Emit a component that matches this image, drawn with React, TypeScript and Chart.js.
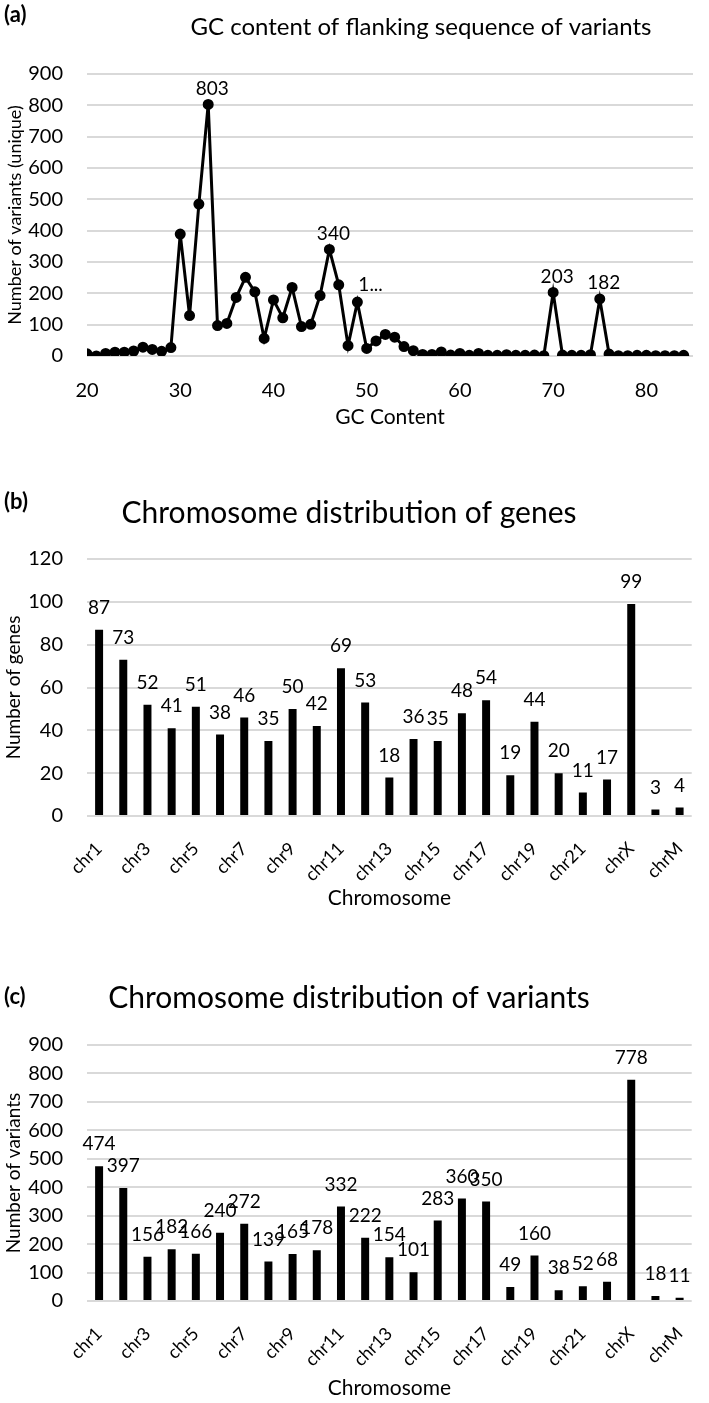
import React, { useEffect, useRef } from 'react';
import { Chart, registerables } from 'chart.js';

Chart.register(...registerables);

const FONT = 'Lato, "Open Sans", sans-serif';
const INK = '#000000';
const GRID = '#d9d9d9';

// ---- Panel (a): GC content ----
const gcContent = [
  20, 21, 22, 23, 24, 25, 26, 27, 28, 29,
  30, 31, 32, 33, 34, 35, 36, 37, 38, 39,
  40, 41, 42, 43, 44, 45, 46, 47, 48, 49,
  50, 51, 52, 53, 54, 55, 56, 57, 58, 59,
  60, 61, 62, 63, 64, 65, 66, 67, 68, 69,
  70, 71, 72, 73, 74, 75, 76, 77, 78, 79,
  80, 81, 82, 83, 84,
];
const gcVariantCounts = [
  7, 0, 8, 12, 12, 16, 28, 21, 15, 27,
  389, 129, 485, 803, 97, 104, 187, 251, 205, 56,
  179, 122, 219, 94, 101, 193, 340, 227, 33, 172,
  24, 48, 69, 60, 30, 17, 5, 5, 13, 3,
  8, 2, 8, 2, 2, 4, 2, 2, 3, 1,
  203, 3, 2, 2, 4, 182, 6, 1, 1, 2,
  2, 1, 1, 1, 2,
];
const gcLabelIndices = [13, 26, 29, 50, 55];
const gcLabelTexts = ['803', '340', '1...', '203', '182'];
const gcYTicks = [0, 900, 100];

// ---- Panels (b) and (c): chromosomes ----
const chromosomes = [
  'chr1', 'chr2', 'chr3', 'chr4', 'chr5', 'chr6', 'chr7', 'chr8', 'chr9', 'chr10',
  'chr11', 'chr12', 'chr13', 'chr14', 'chr15', 'chr16', 'chr17', 'chr18', 'chr19', 'chr20',
  'chr21', 'chr22', 'chrX', 'chrY', 'chrM',
];
const geneCounts = [
  87, 73, 52, 41, 51, 38, 46, 35, 50, 42,
  69, 53, 18, 36, 35, 48, 54, 19, 44, 20,
  11, 17, 99, 3, 4,
];
const variantCounts = [
  474, 397, 156, 182, 166, 240, 272, 139, 165, 178,
  332, 222, 154, 101, 283, 360, 350, 49, 160, 38,
  52, 68, 778, 18, 11,
];
const geneYTicks = [0, 120, 20];
const variantYTicks = [0, 900, 100];

function decorPlugin(letter: string, letterY: number, title: string, titleX: number, titleY: number, titleSize: number) {
  return {
    id: 'panelDecor',
    afterDraw(chart: any) {
      const ctx = chart.ctx;
      ctx.save();
      ctx.fillStyle = INK;
      ctx.textBaseline = 'middle';
      ctx.textAlign = 'left';
      ctx.font = `bold 22px ${FONT}`;
      ctx.fillText(letter, 4, letterY);
      ctx.textAlign = 'center';
      ctx.font = `${titleSize}px ${FONT}`;
      ctx.fillText(title, titleX, titleY);
      ctx.restore();
    },
  };
}

const pointLabelPlugin = {
  id: 'pointLabels',
  afterDatasetsDraw(chart: any) {
    const ctx = chart.ctx;
    const meta = chart.getDatasetMeta(0);
    ctx.save();
    ctx.fillStyle = INK;
    ctx.font = `19px ${FONT}`;
    ctx.textBaseline = 'middle';
    gcLabelIndices.forEach((idx, k) => {
      const el = meta.data[idx];
      const text = gcLabelTexts[k];
      if (text.endsWith('...')) {
        ctx.textAlign = 'left';
        ctx.fillText(text, el.x + 1, el.y - 17);
      } else {
        ctx.textAlign = 'center';
        ctx.fillText(text, el.x + 4, el.y - 16);
      }
    });
    ctx.restore();
  },
};

const barLabelPlugin = {
  id: 'barLabels',
  afterDatasetsDraw(chart: any) {
    const ctx = chart.ctx;
    const meta = chart.getDatasetMeta(0);
    const data = chart.data.datasets[0].data;
    ctx.save();
    ctx.fillStyle = INK;
    ctx.font = `19px ${FONT}`;
    ctx.textBaseline = 'middle';
    ctx.textAlign = 'center';
    meta.data.forEach((el: any, i: number) => {
      ctx.fillText(String(data[i]), el.x, el.y - 22);
    });
    ctx.restore();
  },
};

function yScale(ticks: number[], title: string, titleSize: number, titlePadTop: number) {
  return {
    min: ticks[0],
    max: ticks[1],
    ticks: { stepSize: ticks[2], padding: 24, color: INK, font: { family: FONT, size: 20 } },
    grid: { color: GRID, lineWidth: 2, drawTicks: false },
    border: { display: false },
    title: {
      display: true,
      text: title,
      color: INK,
      font: { family: FONT, size: titleSize },
      padding: { top: titlePadTop, bottom: 0 },
    },
    afterFit: (s: any) => {
      s.width = 87;
    },
  };
}

function lineConfig(): any {
  return {
    type: 'line',
    data: {
      datasets: [
        {
          data: gcContent.map((x, i) => ({ x, y: gcVariantCounts[i] })),
          borderColor: INK,
          backgroundColor: INK,
          borderWidth: 3,
          pointRadius: 4,
          pointBackgroundColor: INK,
          pointBorderColor: INK,
          tension: 0,
        },
      ],
    },
    options: {
      responsive: false,
      animation: false,
      layout: { padding: { left: 0, right: 16, top: 74, bottom: 30 } },
      plugins: { legend: { display: false }, tooltip: { enabled: false }, title: { display: false } },
      scales: {
        x: {
          type: 'linear',
          min: 20,
          max: 85,
          ticks: { stepSize: 10, includeBounds: false, padding: 15, color: INK, font: { family: FONT, size: 20 } },
          grid: { display: false },
          border: { display: false },
          title: {
            display: true,
            text: 'GC Content',
            color: INK,
            font: { family: FONT, size: 21 },
            padding: { top: 0, bottom: 0 },
          },
          afterFit: (s: any) => {
            s.height = 74;
          },
        },
        y: yScale(gcYTicks, 'Number of variants (unique)', 18, 4),
      },
    },
    plugins: [pointLabelPlugin, decorPlugin('(a)', 15, 'GC content of flanking sequence of variants', 421, 27, 24)],
  };
}

function barConfig(values: number[], ticks: number[], yTitle: string, title: string, pad: any, xHeight: number, letter: string, letterY: number, titleY: number): any {
  return {
    type: 'bar',
    data: {
      labels: chromosomes,
      datasets: [
        {
          data: values,
          backgroundColor: INK,
          borderWidth: 0,
          categoryPercentage: 1,
          barPercentage: 0.33,
        },
      ],
    },
    options: {
      responsive: false,
      animation: false,
      layout: { padding: pad },
      plugins: { legend: { display: false }, tooltip: { enabled: false }, title: { display: false } },
      scales: {
        x: {
          ticks: {
            autoSkip: false,
            minRotation: 45,
            maxRotation: 45,
            padding: 14,
            color: INK,
            font: { family: FONT, size: 18 },
            callback: (_v: any, i: number) => (i % 2 === 0 ? chromosomes[i] : ''),
          },
          grid: { display: false },
          border: { display: false },
          title: {
            display: true,
            text: 'Chromosome',
            color: INK,
            font: { family: FONT, size: 21 },
            padding: { top: 0, bottom: 0 },
          },
          afterFit: (s: any) => {
            s.height = xHeight;
          },
        },
        y: yScale(ticks, yTitle, 19, 2),
      },
    },
    plugins: [barLabelPlugin, decorPlugin(letter, letterY, title, 349, titleY, 30)],
  };
}

function Panel({ top, height, make }: { top: number; height: number; make: () => any }) {
  const ref = useRef<HTMLCanvasElement | null>(null);
  useEffect(() => {
    if (!ref.current) return;
    const chart = new Chart(ref.current, make());
    return () => chart.destroy();
  }, []);
  return (
    <canvas
      ref={ref}
      width={709}
      height={height}
      style={{ position: 'absolute', left: 0, top, width: 709, height }}
    />
  );
}

export default function App() {
  return (
    <div style={{ position: 'absolute', left: 0, top: 0, width: 709, height: 1403, background: '#ffffff', overflow: 'hidden' }}>
      <Panel top={0} height={460} make={lineConfig} />
      <Panel
        top={470}
        height={460}
        make={() =>
          barConfig(geneCounts, geneYTicks, 'Number of genes', 'Chromosome distribution of genes',
            { left: 0, right: 6, top: 89, bottom: 19 }, 95, '(b)', 32, 43)
        }
      />
      <Panel
        top={930}
        height={473}
        make={() =>
          barConfig(variantCounts, variantYTicks, 'Number of variants', 'Chromosome distribution of variants',
            { left: 0, right: 6, top: 115, bottom: 2 }, 100, '(c)', 67, 68)
        }
      />
    </div>
  );
}
